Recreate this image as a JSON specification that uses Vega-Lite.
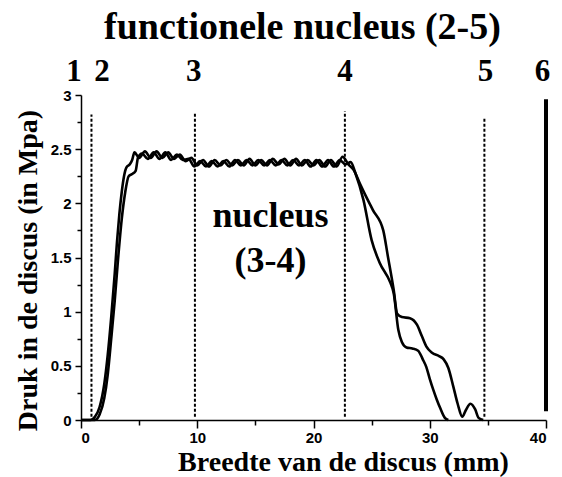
{
  "$schema": "https://vega.github.io/schema/vega-lite/v6.json",
  "width": 465,
  "height": 325,
  "autosize": {"type": "none"},
  "padding": {"left": 81, "top": 95, "right": 16, "bottom": 57},
  "background": "white",
  "title": {
    "text": "functionele nucleus (2-5)",
    "font": "Liberation Serif",
    "fontSize": 38,
    "fontWeight": "bold",
    "color": "black",
    "anchor": "middle",
    "dx": -11,
    "offset": 9
  },
  "config": {
    "view": {"stroke": null},
    "axis": {
      "grid": false,
      "domainColor": "black",
      "domainWidth": 1.5,
      "tickColor": "black",
      "tickWidth": 1.5,
      "labelColor": "black",
      "labelFont": "Liberation Sans",
      "labelFontWeight": "bold",
      "labelFontSize": 15,
      "titleColor": "black",
      "titleFont": "Liberation Serif",
      "titleFontWeight": "bold"
    }
  },
  "datasets": {
    "curves": [
      {"mm": 0, "druk": 0, "meting": "1"},
      {"mm": 0.8, "druk": 0, "meting": "1"},
      {"mm": 1.2, "druk": 0.03, "meting": "1"},
      {"mm": 1.6, "druk": 0.12, "meting": "1"},
      {"mm": 2.0, "druk": 0.33, "meting": "1"},
      {"mm": 2.3, "druk": 0.6, "meting": "1"},
      {"mm": 2.6, "druk": 0.95, "meting": "1"},
      {"mm": 2.9, "druk": 1.35, "meting": "1"},
      {"mm": 3.1, "druk": 1.65, "meting": "1"},
      {"mm": 3.3, "druk": 1.9, "meting": "1"},
      {"mm": 3.5, "druk": 2.1, "meting": "1"},
      {"mm": 3.7, "druk": 2.25, "meting": "1"},
      {"mm": 3.9, "druk": 2.33, "meting": "1"},
      {"mm": 4.2, "druk": 2.36, "meting": "1"},
      {"mm": 4.4, "druk": 2.4, "meting": "1"},
      {"mm": 4.6, "druk": 2.47, "meting": "1"},
      {"mm": 5.0, "druk": 2.42, "meting": "1"},
      {"mm": 5.5, "druk": 2.48, "meting": "1"},
      {"mm": 6.0, "druk": 2.42, "meting": "1"},
      {"mm": 6.5, "druk": 2.48, "meting": "1"},
      {"mm": 7.0, "druk": 2.42, "meting": "1"},
      {"mm": 7.5, "druk": 2.47, "meting": "1"},
      {"mm": 8.0, "druk": 2.41, "meting": "1"},
      {"mm": 8.5, "druk": 2.45, "meting": "1"},
      {"mm": 9.0, "druk": 2.39, "meting": "1"},
      {"mm": 9.5, "druk": 2.42, "meting": "1"},
      {"mm": 10.0, "druk": 2.35, "meting": "1"},
      {"mm": 10.5, "druk": 2.4, "meting": "1"},
      {"mm": 11.0, "druk": 2.34, "meting": "1"},
      {"mm": 11.5, "druk": 2.4, "meting": "1"},
      {"mm": 12.0, "druk": 2.35, "meting": "1"},
      {"mm": 12.5, "druk": 2.4, "meting": "1"},
      {"mm": 13.0, "druk": 2.35, "meting": "1"},
      {"mm": 13.5, "druk": 2.4, "meting": "1"},
      {"mm": 14.0, "druk": 2.35, "meting": "1"},
      {"mm": 14.5, "druk": 2.41, "meting": "1"},
      {"mm": 15.0, "druk": 2.35, "meting": "1"},
      {"mm": 15.5, "druk": 2.4, "meting": "1"},
      {"mm": 16.0, "druk": 2.35, "meting": "1"},
      {"mm": 16.5, "druk": 2.41, "meting": "1"},
      {"mm": 17.0, "druk": 2.36, "meting": "1"},
      {"mm": 17.5, "druk": 2.41, "meting": "1"},
      {"mm": 18.0, "druk": 2.35, "meting": "1"},
      {"mm": 18.5, "druk": 2.41, "meting": "1"},
      {"mm": 19.0, "druk": 2.35, "meting": "1"},
      {"mm": 19.5, "druk": 2.4, "meting": "1"},
      {"mm": 20.0, "druk": 2.35, "meting": "1"},
      {"mm": 20.5, "druk": 2.4, "meting": "1"},
      {"mm": 21.0, "druk": 2.34, "meting": "1"},
      {"mm": 21.5, "druk": 2.4, "meting": "1"},
      {"mm": 22.0, "druk": 2.34, "meting": "1"},
      {"mm": 22.5, "druk": 2.43, "meting": "1"},
      {"mm": 23.0, "druk": 2.36, "meting": "1"},
      {"mm": 23.5, "druk": 2.3, "meting": "1"},
      {"mm": 24.0, "druk": 2.18, "meting": "1"},
      {"mm": 24.4, "druk": 2.09, "meting": "1"},
      {"mm": 25.1, "druk": 1.94, "meting": "1"},
      {"mm": 26.0, "druk": 1.75, "meting": "1"},
      {"mm": 26.4, "druk": 1.51, "meting": "1"},
      {"mm": 26.9, "druk": 1.2, "meting": "1"},
      {"mm": 27.2, "druk": 0.98, "meting": "1"},
      {"mm": 27.6, "druk": 0.95, "meting": "1"},
      {"mm": 28.3, "druk": 0.94, "meting": "1"},
      {"mm": 28.9, "druk": 0.88, "meting": "1"},
      {"mm": 29.3, "druk": 0.78, "meting": "1"},
      {"mm": 29.7, "druk": 0.68, "meting": "1"},
      {"mm": 30.2, "druk": 0.62, "meting": "1"},
      {"mm": 30.8, "druk": 0.59, "meting": "1"},
      {"mm": 31.2, "druk": 0.56, "meting": "1"},
      {"mm": 31.6, "druk": 0.48, "meting": "1"},
      {"mm": 32.0, "druk": 0.32, "meting": "1"},
      {"mm": 32.4, "druk": 0.15, "meting": "1"},
      {"mm": 32.8, "druk": 0.03, "meting": "1"},
      {"mm": 33.1, "druk": 0.09, "meting": "1"},
      {"mm": 33.5, "druk": 0.15, "meting": "1"},
      {"mm": 33.9, "druk": 0.1, "meting": "1"},
      {"mm": 34.2, "druk": 0.02, "meting": "1"},
      {"mm": 34.6, "druk": 0, "meting": "1"},
      {"mm": 0, "druk": 0, "meting": "2"},
      {"mm": 1.2, "druk": 0, "meting": "2"},
      {"mm": 1.6, "druk": 0.05, "meting": "2"},
      {"mm": 2.0, "druk": 0.2, "meting": "2"},
      {"mm": 2.3, "druk": 0.42, "meting": "2"},
      {"mm": 2.6, "druk": 0.75, "meting": "2"},
      {"mm": 2.9, "druk": 1.1, "meting": "2"},
      {"mm": 3.2, "druk": 1.5, "meting": "2"},
      {"mm": 3.5, "druk": 1.85, "meting": "2"},
      {"mm": 3.8, "druk": 2.1, "meting": "2"},
      {"mm": 4.1, "druk": 2.25, "meting": "2"},
      {"mm": 4.4, "druk": 2.27, "meting": "2"},
      {"mm": 4.7, "druk": 2.3, "meting": "2"},
      {"mm": 4.9, "druk": 2.42, "meting": "2"},
      {"mm": 5.25, "druk": 2.46, "meting": "2"},
      {"mm": 5.75, "druk": 2.41, "meting": "2"},
      {"mm": 6.25, "druk": 2.47, "meting": "2"},
      {"mm": 6.75, "druk": 2.41, "meting": "2"},
      {"mm": 7.25, "druk": 2.47, "meting": "2"},
      {"mm": 7.75, "druk": 2.4, "meting": "2"},
      {"mm": 8.25, "druk": 2.45, "meting": "2"},
      {"mm": 8.75, "druk": 2.4, "meting": "2"},
      {"mm": 9.25, "druk": 2.41, "meting": "2"},
      {"mm": 9.75, "druk": 2.34, "meting": "2"},
      {"mm": 10.25, "druk": 2.39, "meting": "2"},
      {"mm": 10.75, "druk": 2.34, "meting": "2"},
      {"mm": 11.25, "druk": 2.39, "meting": "2"},
      {"mm": 11.75, "druk": 2.34, "meting": "2"},
      {"mm": 12.25, "druk": 2.39, "meting": "2"},
      {"mm": 12.75, "druk": 2.34, "meting": "2"},
      {"mm": 13.25, "druk": 2.4, "meting": "2"},
      {"mm": 13.75, "druk": 2.35, "meting": "2"},
      {"mm": 14.25, "druk": 2.4, "meting": "2"},
      {"mm": 14.75, "druk": 2.35, "meting": "2"},
      {"mm": 15.25, "druk": 2.4, "meting": "2"},
      {"mm": 15.75, "druk": 2.35, "meting": "2"},
      {"mm": 16.25, "druk": 2.4, "meting": "2"},
      {"mm": 16.75, "druk": 2.35, "meting": "2"},
      {"mm": 17.25, "druk": 2.4, "meting": "2"},
      {"mm": 17.75, "druk": 2.35, "meting": "2"},
      {"mm": 18.25, "druk": 2.4, "meting": "2"},
      {"mm": 18.75, "druk": 2.35, "meting": "2"},
      {"mm": 19.25, "druk": 2.4, "meting": "2"},
      {"mm": 19.75, "druk": 2.34, "meting": "2"},
      {"mm": 20.25, "druk": 2.4, "meting": "2"},
      {"mm": 20.75, "druk": 2.34, "meting": "2"},
      {"mm": 21.25, "druk": 2.4, "meting": "2"},
      {"mm": 21.75, "druk": 2.34, "meting": "2"},
      {"mm": 22.25, "druk": 2.4, "meting": "2"},
      {"mm": 22.75, "druk": 2.36, "meting": "2"},
      {"mm": 23.2, "druk": 2.38, "meting": "2"},
      {"mm": 23.6, "druk": 2.28, "meting": "2"},
      {"mm": 24.3, "druk": 2.03, "meting": "2"},
      {"mm": 25.0, "druk": 1.66, "meting": "2"},
      {"mm": 25.7, "druk": 1.45, "meting": "2"},
      {"mm": 26.6, "druk": 1.27, "meting": "2"},
      {"mm": 26.9, "druk": 1.17, "meting": "2"},
      {"mm": 27.3, "druk": 0.83, "meting": "2"},
      {"mm": 27.6, "druk": 0.72, "meting": "2"},
      {"mm": 28.0, "druk": 0.67, "meting": "2"},
      {"mm": 28.5, "druk": 0.66, "meting": "2"},
      {"mm": 29.0, "druk": 0.64, "meting": "2"},
      {"mm": 29.4, "druk": 0.56, "meting": "2"},
      {"mm": 29.7, "druk": 0.49, "meting": "2"},
      {"mm": 30.0, "druk": 0.38, "meting": "2"},
      {"mm": 30.3, "druk": 0.28, "meting": "2"},
      {"mm": 30.6, "druk": 0.19, "meting": "2"},
      {"mm": 30.9, "druk": 0.11, "meting": "2"},
      {"mm": 31.3, "druk": 0.02, "meting": "2"},
      {"mm": 31.6, "druk": 0, "meting": "2"}
    ],
    "grenzen": [
      {"mm": 0.9, "druk": 0.03, "boven": 2.82},
      {"mm": 9.8, "druk": 0.03, "boven": 2.84},
      {"mm": 22.7, "druk": 0.03, "boven": 2.85},
      {"mm": 34.7, "druk": 0.03, "boven": 2.8}
    ],
    "rand": [
      {"mm": 40, "druk": 0.08, "boven": 2.96}
    ],
    "nummers": [
      {"mm": -0.6, "druk": 3.13, "label": "1"},
      {"mm": 1.8, "druk": 3.13, "label": "2"},
      {"mm": 9.7, "druk": 3.13, "label": "3"},
      {"mm": 22.7, "druk": 3.13, "label": "4"},
      {"mm": 34.8, "druk": 3.13, "label": "5"},
      {"mm": 39.7, "druk": 3.13, "label": "6"}
    ],
    "tekst": [
      {"mm": 16.3, "druk": 1.78, "label": "nucleus"},
      {"mm": 16.3, "druk": 1.37, "label": "(3-4)"}
    ]
  },
  "encoding": {
    "x": {
      "field": "mm",
      "type": "quantitative",
      "scale": {"domain": [0, 40], "nice": false, "zero": false},
      "axis": {
        "values": [0, 5, 10, 15, 20, 25, 30, 35, 40],
        "tickSize": {"condition": {"test": "datum.value % 10 === 0", "value": 8}, "value": 5},
        "labelExpr": "datum.value % 10 === 0 ? format(datum.value, 'd') : ''",
        "labelPadding": 2,
        "title": "Breedte van de discus (mm)",
        "titleFontSize": 28,
        "titleX": 262,
        "titleY": 50,
        "titleBaseline": "alphabetic"
      }
    },
    "y": {
      "field": "druk",
      "type": "quantitative",
      "scale": {"domain": [0, 3], "nice": false},
      "axis": {
        "values": [0, 0.25, 0.5, 0.75, 1, 1.25, 1.5, 1.75, 2, 2.25, 2.5, 2.75, 3],
        "tickSize": {"condition": {"test": "datum.value % 0.5 === 0", "value": 6}, "value": 4},
        "labelExpr": "datum.value % 0.5 === 0 ? format(datum.value, '~g') : ''",
        "labelPadding": 4,
        "title": "Druk in de discus (in Mpa)",
        "titleFontSize": 28,
        "titleX": -45,
        "titleY": 175,
        "titleAngle": 270,
        "titleAlign": "center",
        "titleBaseline": "alphabetic"
      }
    }
  },
  "layer": [
    {
      "data": {"name": "curves"},
      "mark": {"type": "line", "color": "black", "strokeWidth": 2.6, "interpolate": "monotone", "strokeJoin": "round"},
      "encoding": {
        "detail": {"field": "meting", "type": "nominal"}
      }
    },
    {
      "data": {"name": "grenzen"},
      "mark": {"type": "rule", "color": "black", "strokeWidth": 2, "strokeDash": [3, 2]},
      "encoding": {
        "y2": {"field": "boven"}
      }
    },
    {
      "data": {"name": "rand"},
      "mark": {"type": "rule", "color": "black", "strokeWidth": 4},
      "encoding": {
        "y2": {"field": "boven"}
      }
    },
    {
      "data": {"name": "nummers"},
      "mark": {"type": "text", "font": "Liberation Serif", "fontWeight": "bold", "fontSize": 31, "color": "black", "baseline": "alphabetic", "align": "center"},
      "encoding": {
        "text": {"field": "label"}
      }
    },
    {
      "data": {"name": "tekst"},
      "mark": {"type": "text", "font": "Liberation Serif", "fontWeight": "bold", "fontSize": 36, "color": "black", "baseline": "alphabetic", "align": "center"},
      "encoding": {
        "text": {"field": "label"}
      }
    }
  ]
}
